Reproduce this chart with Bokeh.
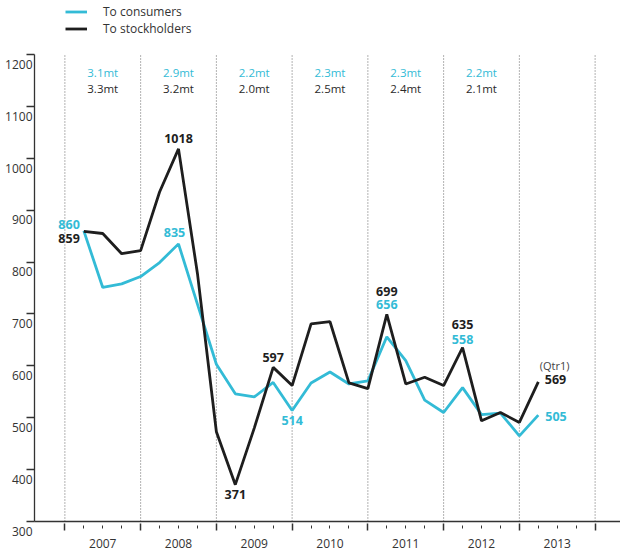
from bokeh.plotting import figure
from bokeh.models import (Range1d, FixedTicker, LinearAxis, Legend, LegendItem)
from bokeh.core.properties import value
from bokeh.embed import file_html
from bokeh.resources import INLINE

# ---------------- data ----------------
years = [2007, 2008, 2009, 2010, 2011, 2012, 2013]
quarters = [f"{y}Q{q}" for y in years[:-1] for q in (1, 2, 3, 4)] + ["2013Q1"]
consumers = [860, 751, 758, 772, 799, 835, 719, 603,
             546, 540, 568, 514, 567, 588, 565, 571,
             656, 610, 534, 510, 558, 506, 509, 465, 505]
stockholders = [859, 855, 816, 822, 935, 1018, 778, 473,
                371, 480, 597, 562, 681, 685, 567, 556,
                699, 565, 578, 562, 635, 494, 510, 491, 569]
annual_consumers = ["3.1mt", "2.9mt", "2.2mt", "2.3mt", "2.3mt", "2.2mt"]
annual_stockholders = ["3.3mt", "3.2mt", "2.0mt", "2.5mt", "2.4mt", "2.1mt"]
y_ticks = [300, 400, 500, 600, 700, 800, 900, 1000, 1100, 1200]

BLUE = "#33BBD6"
BLACK = "#1E1E1E"
FONT = "Open Sans"

def qpos(q):
    y, n = q.split("Q")
    return int(y) + int(n) / 4.0

xs = [qpos(q) for q in quarters]
y_lo, y_hi = y_ticks[0], y_ticks[-1]

p = figure(width=620, height=554, output_backend="svg", toolbar_location=None,
           x_range=Range1d(2006.599, 2014.335), y_range=Range1d(300, 1304),
           x_axis_location=None, y_axis_location="left",
           min_border_left=34, min_border_top=0, min_border_bottom=33, min_border_right=0)
p.outline_line_color = None
p.background_fill_color = "white"
p.border_fill_color = "white"

# y axis (labels sit just below their tick marks)
ya = p.yaxis[0]
ya.bounds = (y_lo, y_hi)
ya.ticker = FixedTicker(ticks=y_ticks, minor_ticks=[])
ya.major_label_overrides = {t: "\n" + str(t) for t in y_ticks}
ya.major_tick_out = 8
ya.major_tick_in = 0
ya.major_tick_line_color = "#333333"
ya.major_tick_line_width = 1.3
ya.axis_line_color = "#333333"
ya.axis_line_width = 1.3
ya.major_label_standoff = -6
ya.major_label_text_font = FONT
ya.major_label_text_font_size = "12px"
ya.major_label_text_color = "#333333"
ya.major_label_text_line_height = 1.15

# x axis: boundaries + quarter ticks
bounds = years + [2014]
minor = [b + k / 4 for b in years for k in (1, 2, 3)]
xa = LinearAxis(ticker=FixedTicker(ticks=bounds, minor_ticks=minor))
xa.major_label_overrides = {b: "" for b in bounds}
xa.major_label_text_font_size = "0px"
xa.major_label_standoff = 0
xa.major_tick_in = -2
xa.major_tick_out = 9
xa.minor_tick_in = -4
xa.minor_tick_out = 7
xa.major_tick_line_color = "#333333"
xa.major_tick_line_width = 1.5
xa.minor_tick_line_color = "#333333"
xa.minor_tick_line_width = 1
xa.axis_line_color = "#333333"
xa.axis_line_width = 1.3
p.add_layout(xa, "below")

# x axis: year labels
centers = [y + 0.5 for y in years]
xb = LinearAxis(ticker=FixedTicker(ticks=centers, minor_ticks=[]))
xb.major_label_overrides = {c: str(y) for c, y in zip(centers, years)}
xb.axis_line_alpha = 0
xb.major_tick_line_alpha = 0
xb.minor_tick_line_alpha = 0
xb.major_tick_out = 0
xb.major_tick_in = 0
xb.major_label_standoff = 8
xb.major_label_text_font = FONT
xb.major_label_text_font_size = "12px"
xb.major_label_text_color = "#333333"
p.add_layout(xb, "below")

# dotted year separators (from 300 up to 1200 only)
p.xgrid.grid_line_color = None
p.ygrid.grid_line_color = None
p.segment(x0=bounds, y0=[y_lo] * len(bounds), x1=bounds, y1=[y_hi] * len(bounds),
          line_color="#666666", line_dash="1 2", line_width=1)

# lines
r_c = p.line(xs, consumers, line_color=BLUE, line_width=2.8)
r_s = p.line(xs, stockholders, line_color=BLACK, line_width=2.8)

legend = Legend(items=[LegendItem(label="To consumers", renderers=[r_c]),
                       LegendItem(label="To stockholders", renderers=[r_s])],
                location=(31, 484), orientation="vertical",
                glyph_width=22, glyph_height=15, label_height=15,
                label_standoff=16, spacing=0, padding=0, margin=0,
                background_fill_alpha=0, border_line_alpha=0,
                label_text_font=FONT, label_text_font_size="12px",
                label_text_color="#333333")
p.add_layout(legend, "center")

# annual totals
p.text(x=centers[:-1], y=[y_hi] * 6, text=annual_consumers, y_offset=18,
       text_align="center", text_baseline="middle", text_color=BLUE,
       text_font=value(FONT), text_font_size="11.5px")
p.text(x=centers[:-1], y=[y_hi] * 6, text=annual_stockholders, y_offset=34,
       text_align="center", text_baseline="middle", text_color="#2a2a2a",
       text_font=value(FONT), text_font_size="11.5px")

# value labels: (index, align, x_offset, y_offset)
blue_lab = [(0, "right", -4, -6), (5, "center", -4, -11), (11, "center", 0, 10),
            (16, "center", 0, -32), (20, "center", 0, -48), (24, "left", 7, 1)]
black_lab = [(0, "right", -4, 7.5), (5, "center", 0, -10), (8, "center", 0, 9.5),
             (10, "center", 0, -9.5), (16, "center", 0, -23), (20, "center", 0, -23),
             (24, "left", 6.5, -2)]

for series, labs, col in ((consumers, blue_lab, BLUE), (stockholders, black_lab, BLACK)):
    for i, al, xo, yo in labs:
        p.text(x=[xs[i]], y=[series[i]], text=[str(series[i])], x_offset=xo, y_offset=yo,
               text_align=al, text_baseline="middle", text_color=col,
               text_font=value(FONT), text_font_size="12.5px", text_font_style="bold")

p.text(x=[xs[-1]], y=[stockholders[-1]], text=["(Qtr1)"], x_offset=1.5, y_offset=-16,
       text_align="left", text_baseline="middle", text_color="#444444",
       text_font=value(FONT), text_font_size="11px")

open("out.html", "w").write(file_html(p, INLINE))
